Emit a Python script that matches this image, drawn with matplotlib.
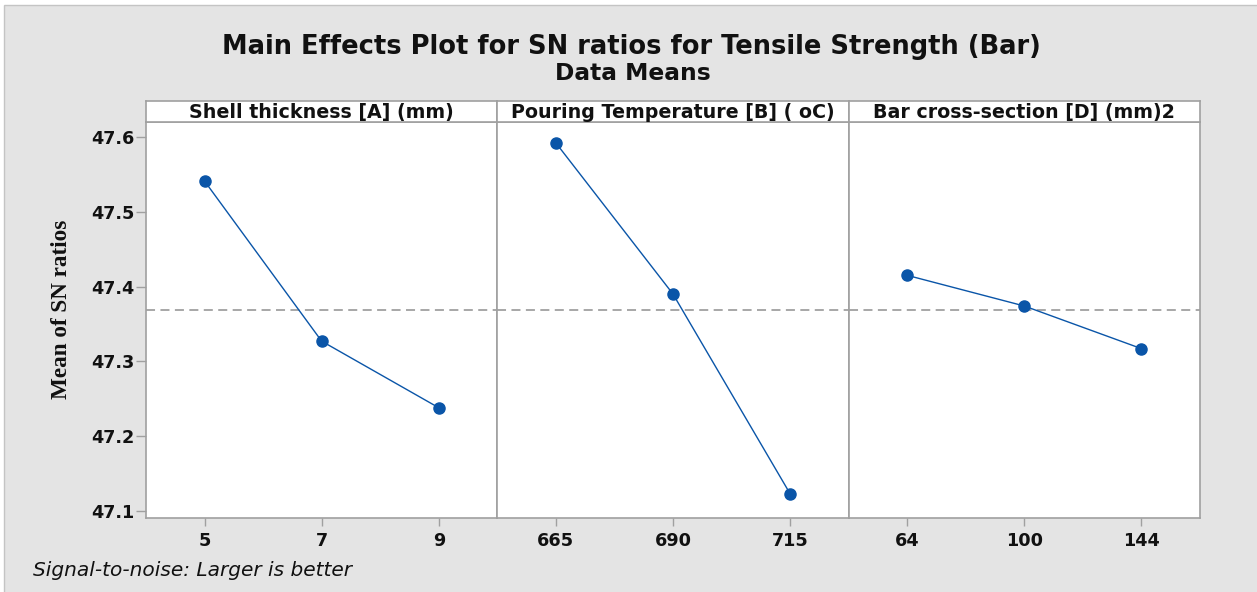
import matplotlib
matplotlib.use("Agg")
import matplotlib.pyplot as plt
import numpy as np
from matplotlib.patches import Rectangle

# ---- data ----
factor_names = ["Shell thickness [A] (mm)", "Pouring Temperature [B] ( oC)", "Bar cross-section [D] (mm)2"]
levels_A = ["5", "7", "9"]
sn_A = [47.541, 47.327, 47.238]
levels_B = ["665", "690", "715"]
sn_B = [47.592, 47.390, 47.123]
levels_D = ["64", "100", "144"]
sn_D = [47.415, 47.374, 47.317]
y_ticks = [47.1, 47.2, 47.3, 47.4, 47.5, 47.6]

levels = [levels_A, levels_B, levels_D]
values = [sn_A, sn_B, sn_D]
overall_mean = np.mean(sn_A + sn_B + sn_D)

W, H = 1257, 592
fig = plt.figure(figsize=(W / 100, H / 100), dpi=100)
fig.patch.set_facecolor("white")
fig.add_artist(Rectangle((4 / W, -0.1), 1.1, 0.1 + (H - 5) / H, transform=fig.transFigure,
                         facecolor="#e4e4e4", edgecolor="#c4c4c4", linewidth=1.0, zorder=-10))

FONT = "DejaVu Sans"
gray = "#a0a0a0"
blue = "#0a55a8"
txt = "#111111"

left_px, right_px = 146, 1200
top_px, bot_px = 122, 518
strip_top = 101
pw = (right_px - left_px) / 3

for i in range(3):
    x0 = left_px + i * pw
    ax = fig.add_axes([x0 / W, (H - bot_px) / H, pw / W, (bot_px - top_px) / H])
    ax.set_facecolor("white")
    xs = np.arange(len(levels[i]))
    ax.plot(xs, values[i], color=blue, linewidth=1.0, marker="o", markersize=8,
            markerfacecolor=blue, markeredgecolor=blue, zorder=3)
    ax.axhline(overall_mean, color=gray, linestyle=(0, (5, 3)), linewidth=1.3, zorder=1)
    ax.set_xlim(-0.5, 2.5)
    ax.set_ylim(47.0906, 47.620)
    ax.set_xticks(xs)
    ax.set_xticklabels(levels[i], fontfamily=FONT, fontsize=12.7, fontweight="bold", color=txt)
    ax.set_yticks(y_ticks)
    if i == 0:
        ax.set_yticklabels([f"{v:.1f}" for v in y_ticks], fontfamily=FONT, fontsize=12.7,
                           fontweight="bold", color=txt)
        ax.tick_params(axis="y", length=7, color=gray, width=1, pad=1)
    else:
        ax.tick_params(axis="y", left=False, labelleft=False)
    ax.tick_params(axis="x", length=6, color=gray, width=1, pad=4)
    for s in ax.spines.values():
        s.set_color(gray)
        s.set_linewidth(1.2)

    sax = fig.add_axes([x0 / W, (H - top_px) / H, pw / W, (top_px - strip_top) / H])
    sax.set_facecolor("white")
    sax.set_xticks([])
    sax.set_yticks([])
    for s in sax.spines.values():
        s.set_color(gray)
        s.set_linewidth(1.2)
    sax.text(0.5, 0.45, factor_names[i], ha="center", va="center", transform=sax.transAxes,
             fontfamily=FONT, fontsize=13.7, fontweight="bold", color=txt)

fig.text(631.5 / W, 1 - 47 / H, "Main Effects Plot for SN ratios for Tensile Strength (Bar)",
         ha="center", va="center", fontfamily=FONT, fontsize=18.5, fontweight="bold", color=txt)
fig.text(632.5 / W, 1 - 73 / H, "Data Means", ha="center", va="center",
         fontfamily=FONT, fontsize=16.8, fontweight="bold", color=txt)
fig.text(62 / W, 1 - 309 / H, "Mean of SN ratios", rotation=90, ha="center", va="center",
         fontfamily="Liberation Serif", fontsize=16.7, fontweight="bold", color=txt)
fig.text(33 / W, 1 - 571 / H, "Signal-to-noise: Larger is better", ha="left", va="center",
         fontfamily=FONT, fontsize=14.5, fontstyle="italic", color=txt)

fig.savefig("out.png", dpi=100, facecolor=fig.get_facecolor())
